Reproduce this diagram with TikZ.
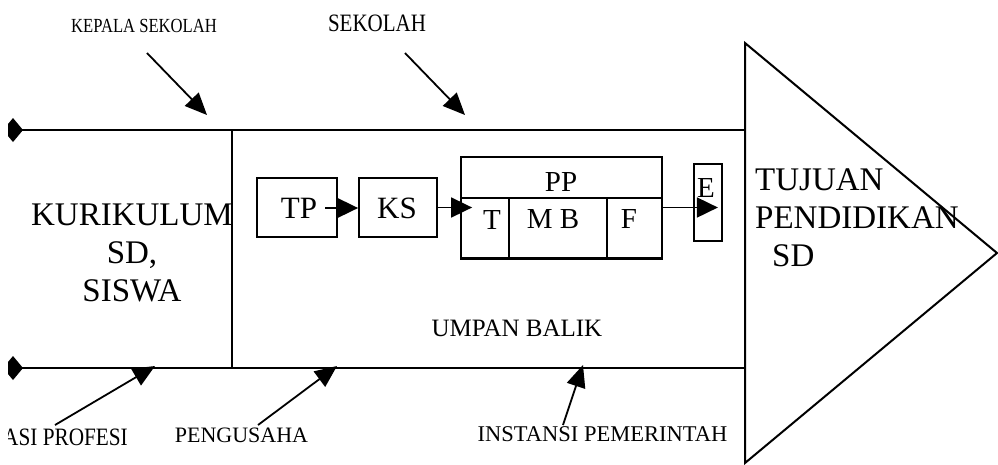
\documentclass[tikz,border=0pt]{standalone}
\usepackage{fontspec}
\setmainfont{Liberation Serif}
\usetikzlibrary{arrows.meta}
\begin{document}
\begin{tikzpicture}[x=1pt,y=-1pt,
  spine/.style={line width=2.6pt},
  frame/.style={line width=2pt, line join=miter},
  box/.style={draw, line width=1.8pt, inner sep=0pt},
  feed/.style={line width=1.8pt, -{Triangle[length=22pt,width=19pt]}},
  flow/.style={line width=1.8pt, -{Triangle[length=21pt,width=20pt]}},
  bigtext/.style={font=\fontsize{33}{38}\selectfont, inner sep=0pt},
  boxtext/.style={font=\fontsize{31}{36}\selectfont, inner sep=3pt},
  celltext/.style={font=\fontsize{29}{34}\selectfont, inner sep=0pt},
  tag/.style={font=\fontsize{22}{26}\selectfont, inner sep=0pt}
]
\useasboundingbox (0,0) rectangle (998,464);
\clip (8,0) rectangle (998,464);

% spine ends and corners
\coordinate (tl) at (13,130);
\coordinate (tr) at (745,130);
\coordinate (bl) at (13,368);
\coordinate (br) at (745,368);

% goal triangle
\draw[frame] (745,43) -- (997,253) -- (745,463) -- cycle;

% the two spines with diamond ends
\draw[spine] (tl) -- (tr);
\draw[spine] (bl) -- (br);
\fill (tl) ++(-10,0) -- ++(10,-12) -- ++(10,12) -- ++(-10,12) -- cycle;
\fill (bl) ++(-10,0) -- ++(10,-12) -- ++(10,12) -- ++(-10,12) -- cycle;
\draw[spine] (232,130) -- (232,368);

% input block
\node[bigtext, align=center] (kur) at (132,252.5) {KURIKULUM\\SD,\\SISWA};

% goal text
\node[bigtext, align=left, anchor=north west] (goal) at (755,169)
  {TUJUAN\\PENDIDIKAN\\\hspace*{17pt}SD};

% process boxes
\node[box, minimum width=80, minimum height=59] (tpbox) at (297,207.5) {};
\node[boxtext] (tp) at (299,208) {TP};
\node[box, minimum width=78, minimum height=59] (ksbox) at (398,207.5) {};
\node[boxtext] (ks) at (397,208) {KS};

\node[box, minimum width=201, minimum height=101] (ppbox) at (561.5,207.5) {};
\node[celltext] (pp) at (561,182) {PP};
\node[box, minimum width=48, minimum height=61] (tcell) at (485,228.5) {};
\node[box, minimum width=98, minimum height=61] (mbcell) at (558,228.5) {};
\node[box, minimum width=55, minimum height=61] (fcell) at (634.5,228.5) {};
\node[celltext] (t) at (492,220) {T};
\node[celltext] (mb) at (553,219) {M B};
\node[celltext] (f) at (629,219) {F};

\node[box, minimum width=28, minimum height=77] (ebox) at (708,202.5) {};
\node[celltext] (e) at (706,188) {E};

% flow arrows
\draw[flow] ([xshift=5pt]tp.east) -- (tp.east -| ksbox.west);
\draw[flow] (ksbox.east) -- ([xshift=12pt]ksbox.east -| ppbox.west);
\draw[flow] (ppbox.east) -- ([xshift=-5pt]ppbox.east -| ebox.east);

% feedback label
\node[font=\fontsize{25}{30}\selectfont, inner sep=0pt] (umpan) at (517,328) {UMPAN BALIK};

% contributing parties
\node[inner sep=0pt, font=\fontsize{20}{24}\selectfont] (kepala) at (144,26) {\scalebox{0.83}[1]{KEPALA SEKOLAH}};
\node[inner sep=0pt, font=\fontsize{25}{30}\selectfont] (sekolah) at (377,23) {\scalebox{0.84}[1]{SEKOLAH}};
\node[inner sep=0pt, font=\fontsize{25}{30}\selectfont, anchor=east] (asosiasi) at (128,437) {\scalebox{0.85}[1]{ASI PROFESI}};
\node[tag] (pengusaha) at (241.5,435) {PENGUSAHA};
\node[tag, font=\fontsize{22.5}{27}\selectfont] (instansi) at (602.5,434) {INSTANSI PEMERINTAH};

\coordinate (kepalaA) at (147,53);
\coordinate (kepalaB) at (207,115);
\coordinate (sekolahA) at (405,53);
\coordinate (sekolahB) at (465,115);
\coordinate (asosiasiA) at (55,425);
\coordinate (asosiasiB) at (155,366);
\coordinate (pengusahaA) at (258,425);
\coordinate (pengusahaB) at (337,366);
\coordinate (instansiA) at (563,425);
\coordinate (instansiB) at (583,365);

\draw[feed] (kepalaA) -- (kepalaB);
\draw[feed] (sekolahA) -- (sekolahB);
\draw[feed] (asosiasiA) -- (asosiasiB);
\draw[feed] (pengusahaA) -- (pengusahaB);
\draw[feed] (instansiA) -- (instansiB);
\end{tikzpicture}
\end{document}
